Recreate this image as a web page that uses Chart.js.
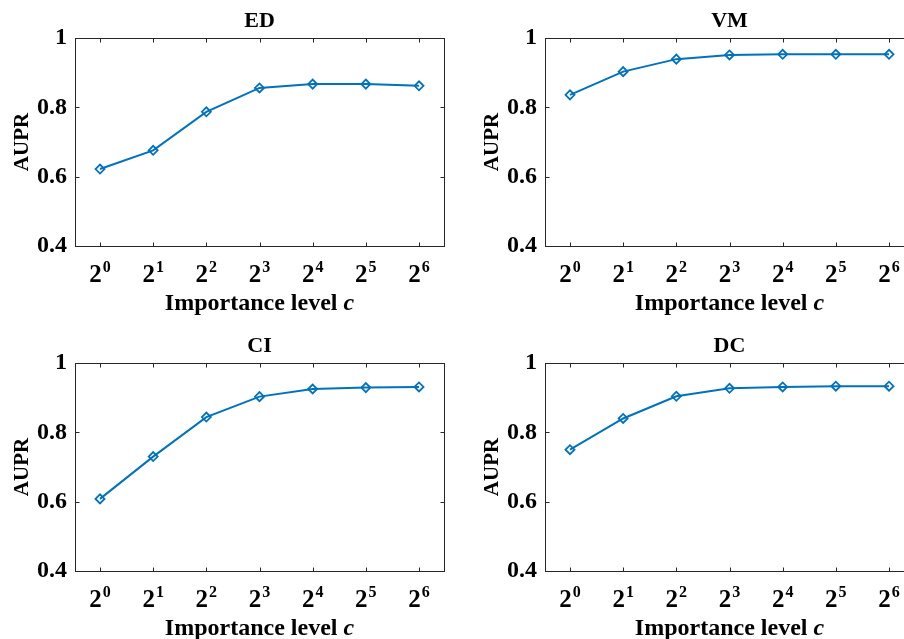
<!DOCTYPE html>
<html lang="en">
<head>
<meta charset="UTF-8">
<title>AUPR vs importance level</title>
<script src="https://cdn.jsdelivr.net/npm/chart.js@4.4.0/dist/chart.umd.min.js"></script>
<style>
  html, body { margin: 0; padding: 0; background: #fff; width: 904px; height: 639px; overflow: hidden; position: relative; }
  .panel { position: absolute; }
</style>
</head>
<body>
<canvas id="chartED" class="panel" width="470" height="325" style="left:0;top:0"></canvas>
<canvas id="chartVM" class="panel" width="470" height="325" style="left:470px;top:0"></canvas>
<canvas id="chartCI" class="panel" width="470" height="325" style="left:0;top:325px"></canvas>
<canvas id="chartDC" class="panel" width="470" height="325" style="left:470px;top:325px"></canvas>
<script>
// data
var exponents = [0, 1, 2, 3, 4, 5, 6];
var tickBase = '2';
var yTicks = [0.4, 0.6, 0.8, 1];
var edAupr = [0.622, 0.676, 0.787, 0.856, 0.867, 0.867, 0.862];
var vmAupr = [0.836, 0.903, 0.939, 0.951, 0.953, 0.953, 0.953];
var ciAupr = [0.608, 0.730, 0.844, 0.903, 0.925, 0.929, 0.931];
var dcAupr = [0.750, 0.840, 0.904, 0.927, 0.931, 0.933, 0.933];
var yLabel = 'AUPR';
var xLabel = 'Importance level ';
var xLabelVar = 'c';

var serif = '"Liberation Serif", "Times New Roman", Times, serif';
var axisColor = '#262626';

// box, inward ticks, 2^k labels and x title (matlab look)
var matlabAxes = {
  id: 'matlabAxes',
  afterDraw: function (chart) {
    var ctx = chart.ctx, a = chart.chartArea;
    var xs = chart.scales.x, ys = chart.scales.y;
    ctx.save();
    ctx.strokeStyle = axisColor;
    ctx.lineWidth = 1;
    var l = Math.round(a.left) + 0.5, r = Math.round(a.right) + 0.5;
    var t = Math.round(a.top) + 0.5, b = Math.round(a.bottom) + 0.5;
    ctx.strokeRect(l, t, r - l, b - t);

    ctx.beginPath();
    exponents.forEach(function (e) {
      var px = Math.round(xs.getPixelForValue(e)) + 0.5;
      ctx.moveTo(px, b); ctx.lineTo(px, b - 4);
      ctx.moveTo(px, t); ctx.lineTo(px, t + 4);
    });
    yTicks.forEach(function (v) {
      var py = Math.round(ys.getPixelForValue(v)) + 0.5;
      ctx.moveTo(l, py); ctx.lineTo(l + 4, py);
      ctx.moveTo(r, py); ctx.lineTo(r - 4, py);
    });
    ctx.stroke();

    ctx.fillStyle = '#000';
    ctx.textAlign = 'left';
    ctx.textBaseline = 'alphabetic';
    exponents.forEach(function (e) {
      var px = xs.getPixelForValue(e);
      ctx.font = 'bold 25px ' + serif;
      var bw = ctx.measureText(tickBase).width;
      ctx.font = 'bold 16px ' + serif;
      var ew = ctx.measureText(String(e)).width;
      var x0 = px - (bw + 1 + ew) / 2;
      ctx.font = 'bold 25px ' + serif;
      ctx.fillText(tickBase, x0, a.bottom + 36);
      ctx.font = 'bold 16px ' + serif;
      ctx.fillText(String(e), x0 + bw + 1, a.bottom + 26);
    });

    ctx.font = 'bold 24px ' + serif;
    var w1 = ctx.measureText(xLabel).width;
    ctx.font = 'italic bold 24px ' + serif;
    var w2 = ctx.measureText(xLabelVar).width;
    var cx = (a.left + a.right) / 2 - (w1 + w2) / 2;
    ctx.font = 'bold 24px ' + serif;
    ctx.fillText(xLabel, cx, a.bottom + 64);
    ctx.font = 'italic bold 24px ' + serif;
    ctx.fillText(xLabelVar, cx + w1, a.bottom + 64);
    ctx.restore();
  }
};

function makeChart(id, title, values) {
  var ctx = document.getElementById(id).getContext('2d');
  return new Chart(ctx, {
    type: 'line',
    data: {
      datasets: [{
        data: exponents.map(function (e, i) { return { x: e, y: values[i] }; }),
        borderColor: '#0072BD',
        borderWidth: 2,
        tension: 0,
        pointStyle: 'rectRot',
        pointRadius: 4.5,
        pointBorderWidth: 1.8,
        pointBorderColor: '#0072BD',
        pointBackgroundColor: 'rgba(0,0,0,0)'
      }]
    },
    options: {
      responsive: false,
      animation: false,
      devicePixelRatio: 1,
      layout: { padding: { left: 0, right: 26, top: 0, bottom: 0 } },
      plugins: {
        legend: { display: false },
        tooltip: { enabled: false },
        title: {
          display: true,
          text: title,
          fullSize: false,
          color: '#000',
          font: { family: serif, size: 22, weight: 'bold', lineHeight: 1.2 },
          padding: { top: 8, bottom: 3.6 }
        }
      },
      scales: {
        x: {
          type: 'linear',
          min: -0.47,
          max: 6.47,
          grid: { display: false, drawTicks: false },
          border: { display: false },
          ticks: { display: false },
          afterFit: function (s) { s.height = 79; }
        },
        y: {
          min: 0.4,
          max: 1,
          grid: { display: false, drawTicks: false },
          border: { display: false },
          afterBuildTicks: function (s) { s.ticks = yTicks.map(function (v) { return { value: v }; }); },
          ticks: {
            color: '#000',
            padding: 8,
            font: { family: serif, size: 24, weight: 'bold' },
            callback: function (v) { return String(Math.round(v * 10) / 10); }
          },
          title: {
            display: true,
            text: yLabel,
            color: '#000',
            font: { family: serif, size: 21, weight: 'bold', lineHeight: 1.2 },
            padding: { top: 10, bottom: 0 }
          },
          afterFit: function (s) { s.width = 75; }
        }
      }
    },
    plugins: [matlabAxes]
  });
}

makeChart('chartED', 'ED', edAupr);
makeChart('chartVM', 'VM', vmAupr);
makeChart('chartCI', 'CI', ciAupr);
makeChart('chartDC', 'DC', dcAupr);
</script>
</body>
</html>
